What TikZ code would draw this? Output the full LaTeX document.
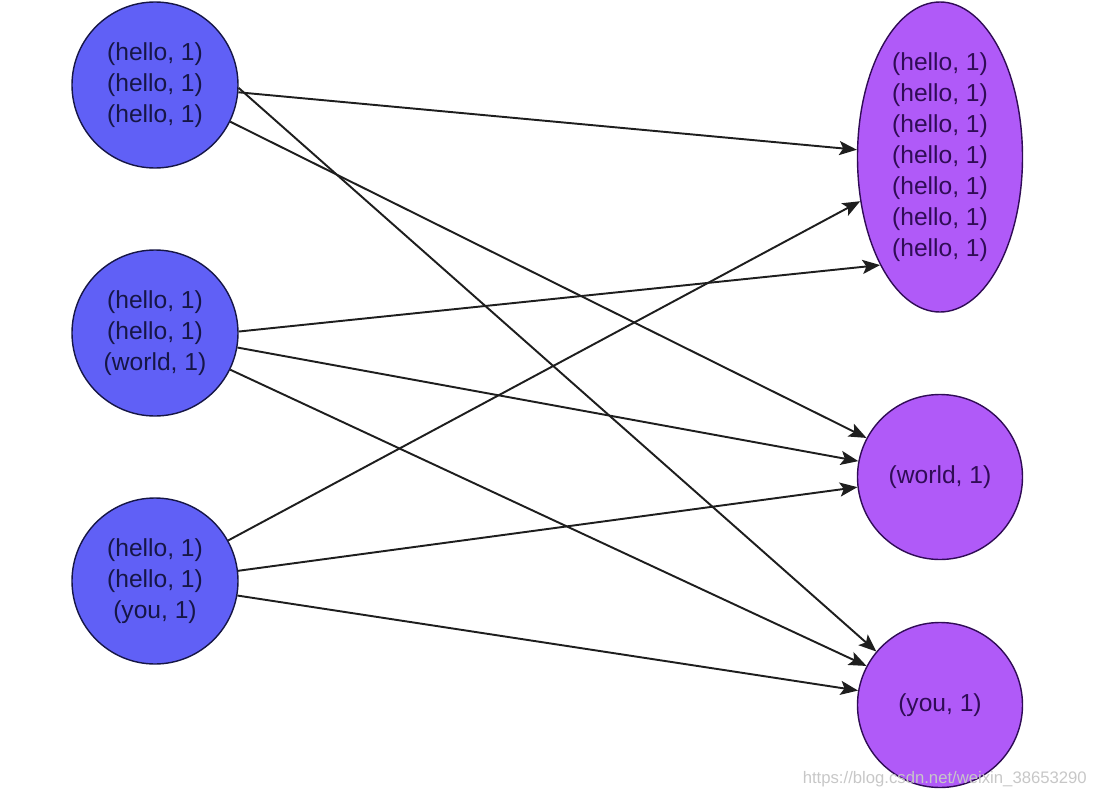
\documentclass[tikz,border=0pt]{standalone}
\usepackage{fontspec}
\setmainfont{Liberation Sans}
\usepackage{tikz}
\usetikzlibrary{arrows.meta, positioning, shapes.geometric}
\usepackage{xcolor}
\definecolor{mapblue}{HTML}{6060F6}
\definecolor{redpurple}{HTML}{B05AF8}
\definecolor{mapink}{HTML}{161646}
\definecolor{redink}{HTML}{300C56}
\definecolor{edgegray}{HTML}{1E1E1E}

\begin{document}
\begin{tikzpicture}[
  mapnode/.style={
    draw=mapink, circle, fill=mapblue, text=mapink, minimum size=3.32cm,
    inner sep=0pt, align=center, line width=0.8pt,
    font=\fontsize{14}{17.6}\selectfont
  },
  rednode/.style={
    draw=redink, circle, fill=redpurple, text=redink, minimum size=3.3cm,
    inner sep=0pt, align=center, line width=0.8pt,
    font=\fontsize{14}{17.6}\selectfont
  },
  arrow/.style={-{Stealth[length=10pt, width=8pt, inset=2.2pt]}, line width=1.1pt, edgegray},
  mark label/.style={font=\fontsize{9.5}{11}\selectfont, text=black!22}
]
  \useasboundingbox (0,0) rectangle (22.04,-15.96);

  % Map side -- three partitions
  \node[mapnode] (mapa) at (3.1,-1.7)   {(hello, 1)\\(hello, 1)\\(hello, 1)};
  \node[mapnode] (mapb) at (3.1,-6.66)  {(hello, 1)\\(hello, 1)\\(world, 1)};
  \node[mapnode] (mapc) at (3.1,-11.62) {(hello, 1)\\(hello, 1)\\(you, 1)};

  % Reduce side -- grouped by key
  \node[rednode, ellipse, minimum width=3.3cm, minimum height=6.2cm] (redhello)
    at (18.8,-3.14) {(hello, 1)\\(hello, 1)\\(hello, 1)\\(hello, 1)\\(hello, 1)\\(hello, 1)\\(hello, 1)};
  \node[rednode] (redworld) at (18.8,-9.54) {(world, 1)};
  \node[rednode] (redyou)   at (18.8,-14.1) {(you, 1)};

  % Shuffle arrows
  \draw[arrow] (mapa.-5)  -- (redhello.175);
  \draw[arrow] (mapa.-26) -- (redworld.152);
  \draw[arrow] (mapa.-2)  -- (redyou.140);

  \draw[arrow] (mapb.1)   -- (redhello.241);
  \draw[arrow] (mapb.-10) -- (redworld.169);
  \draw[arrow] (mapb.-26) -- (redyou.152);

  \draw[arrow] (mapc.29)  -- (redhello.209);
  \draw[arrow] (mapc.7)   -- (redworld.187);
  \draw[arrow] (mapc.-10) -- (redyou.170);

  % Watermark
  \node[mark label, anchor=south east] (mark) at (21.86,-15.86)
    {https://blog.csdn.net/weixin\_38653290};
\end{tikzpicture}
\end{document}
